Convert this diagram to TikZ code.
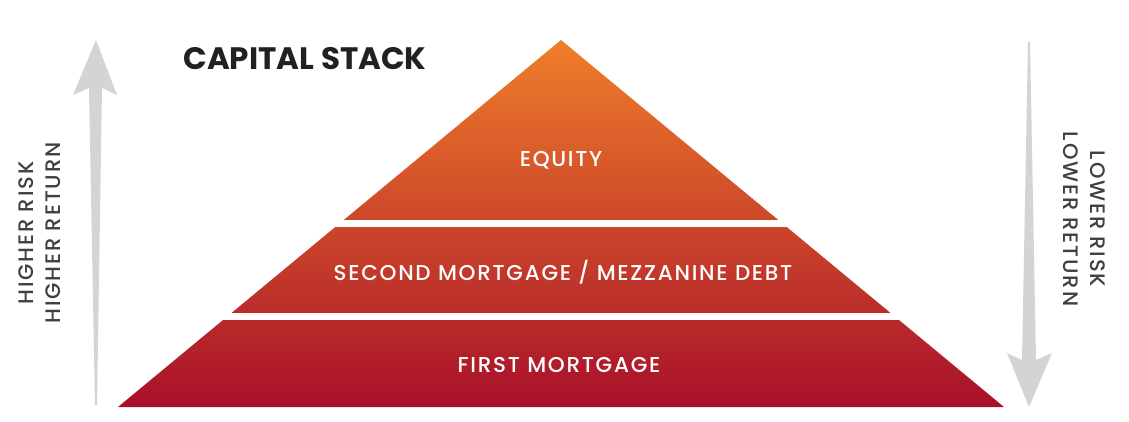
\documentclass[tikz,border=0pt]{standalone}
\usepackage{fontspec}
\setmainfont{Poppins}
\newfontfamily\popmed{Poppins}[UprightFont={* Medium},LetterSpace=8]
\newfontfamily\popside{Poppins}[UprightFont={* Medium},LetterSpace=9]
\begin{document}
\begin{tikzpicture}[x=1pt,y=-1pt,
  tierlabel/.style={text=white,font=\popmed\fontsize{21.5}{24}\selectfont,anchor=center,inner sep=0pt},
  sidelabel/.style={text=black!75,font=\popside\fontsize{21}{27}\selectfont,anchor=center,inner sep=0pt,align=center},
  arrowfill/.style={fill=black!17}]
\definecolor{toporange}{HTML}{EF7E2A}
\definecolor{botred}{HTML}{A8102A}
\useasboundingbox (0,0) rectangle (1129,421);
\fill[white] (0,0) rectangle (1129,421);
% pyramid
\shade[top color=toporange,bottom color=botred] (561,40) -- (1004,407) -- (118,407) -- cycle;
\fill[white] (100,220) rectangle (1020,227);
\fill[white] (100,313) rectangle (1020,320);
% labels
\node[tierlabel] (equity) at (561,160) {EQUITY};
\node[tierlabel] (second) at (563,272) {SECOND MORTGAGE / MEZZANINE DEBT};
\node[tierlabel] (first) at (559,365) {FIRST MORTGAGE};
\node[text=black!87,font=\fontsize{31}{34}\selectfont\bfseries,inner sep=0pt] (title) at (305,59) {CAPITAL STACK};
% arrows
\fill[arrowfill] (96,40) -- (117,95) -- (102,88) -- (97,405) -- (95,405) -- (89,88) -- (73,95) -- cycle;
\fill[arrowfill] (1028,42) -- (1030,42) -- (1036,360) -- (1052,353) -- (1029,407) -- (1007,353) -- (1022,360) -- cycle;
\node[sidelabel,rotate=90] (leftlab) at (39.5,233) {HIGHER RISK\\HIGHER RETURN};
\node[sidelabel,rotate=-90] (rightlab) at (1084,219) {LOWER RISK\\LOWER RETURN};
\end{tikzpicture}
\end{document}
